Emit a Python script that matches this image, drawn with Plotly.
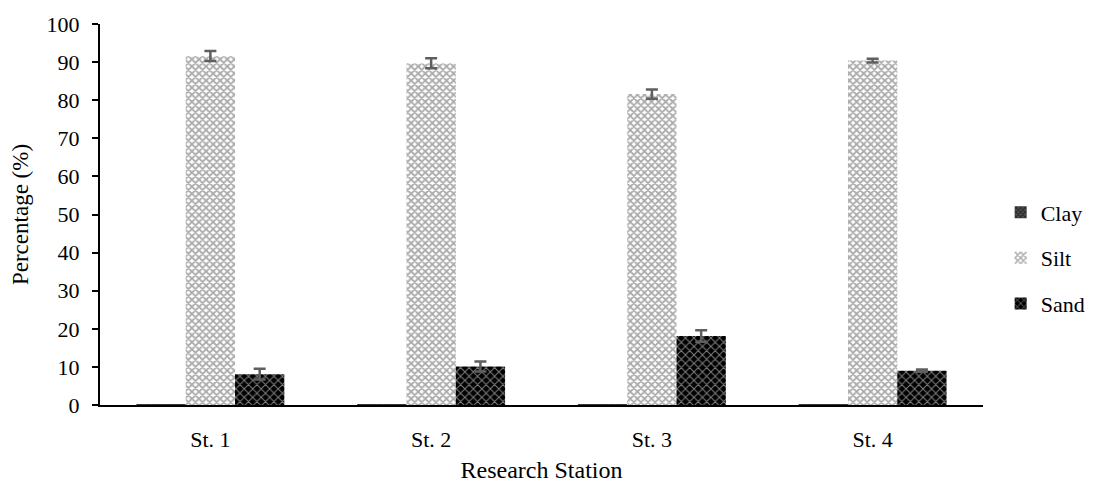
import plotly.graph_objects as go

stations = ["St. 1", "St. 2", "St. 3", "St. 4"]
clay = [0.2, 0.2, 0.2, 0.2]
silt = [91.6, 89.7, 81.6, 90.4]
silt_err = [1.3, 1.3, 1.2, 0.5]
sand = [8.1, 10.1, 18.1, 9.0]
sand_err = [1.4, 1.3, 1.5, 0.3]

font = "Liberation Serif, Times New Roman, serif"
err_color = "#5f5f5f"
fs = 22

fig = go.Figure()
fig.add_trace(go.Bar(
    name="Clay", x=stations, y=clay, legendgroup="a",
    marker=dict(color="#222222", line=dict(width=0),
                pattern=dict(shape="x", fgcolor="#000000", bgcolor="#555555", size=4, solidity=0.6)),
))
fig.add_trace(go.Bar(
    name="Silt", x=stations, y=silt, legendgroup="b",
    marker=dict(color="#ffffff", line=dict(width=0),
                pattern=dict(shape="x", fgcolor="#585858", bgcolor="#ffffff", size=5, solidity=0.6)),
    error_y=dict(type="data", array=silt_err, color=err_color, thickness=2.5, width=6),
))
fig.add_trace(go.Bar(
    name="Sand", x=stations, y=sand, legendgroup="c",
    marker=dict(color="#000000", line=dict(width=0),
                pattern=dict(shape="x", fgcolor="#ffffff", bgcolor="#000000", size=6, solidity=0.3)),
    error_y=dict(type="data", array=sand_err, color=err_color, thickness=2.5, width=6),
))

fig.update_layout(
    width=1100, height=484,
    margin=dict(l=100, r=117, t=24, b=79, autoexpand=False),
    paper_bgcolor="white", plot_bgcolor="white",
    barmode="group", bargap=0.33, bargroupgap=0,
    font=dict(family=font, size=fs, color="#000000"),
    showlegend=True,
    legend=dict(x=1.02, xanchor="left", y=0.386, yanchor="middle",
                tracegroupgap=14, font=dict(size=fs, family=font),
                itemwidth=30),
    xaxis=dict(
        showline=True, linecolor="#000000", linewidth=2,
        ticks="", showgrid=False, ticklabelstandoff=14,
        tickfont=dict(size=fs, family=font),
        title=dict(text="Research Station", font=dict(size=24, family=font), standoff=10),
    ),
    yaxis=dict(
        range=[0, 100], dtick=10, tick0=0,
        showline=True, linecolor="#000000", linewidth=2,
        ticks="outside", ticklen=6, tickwidth=2, tickcolor="#000000",
        showgrid=False, zeroline=False, ticklabelstandoff=8,
        tickfont=dict(size=fs, family=font),
        title=dict(text="Percentage (%)", font=dict(size=23, family=font), standoff=12),
    ),
)

fig.write_html("out.html")
